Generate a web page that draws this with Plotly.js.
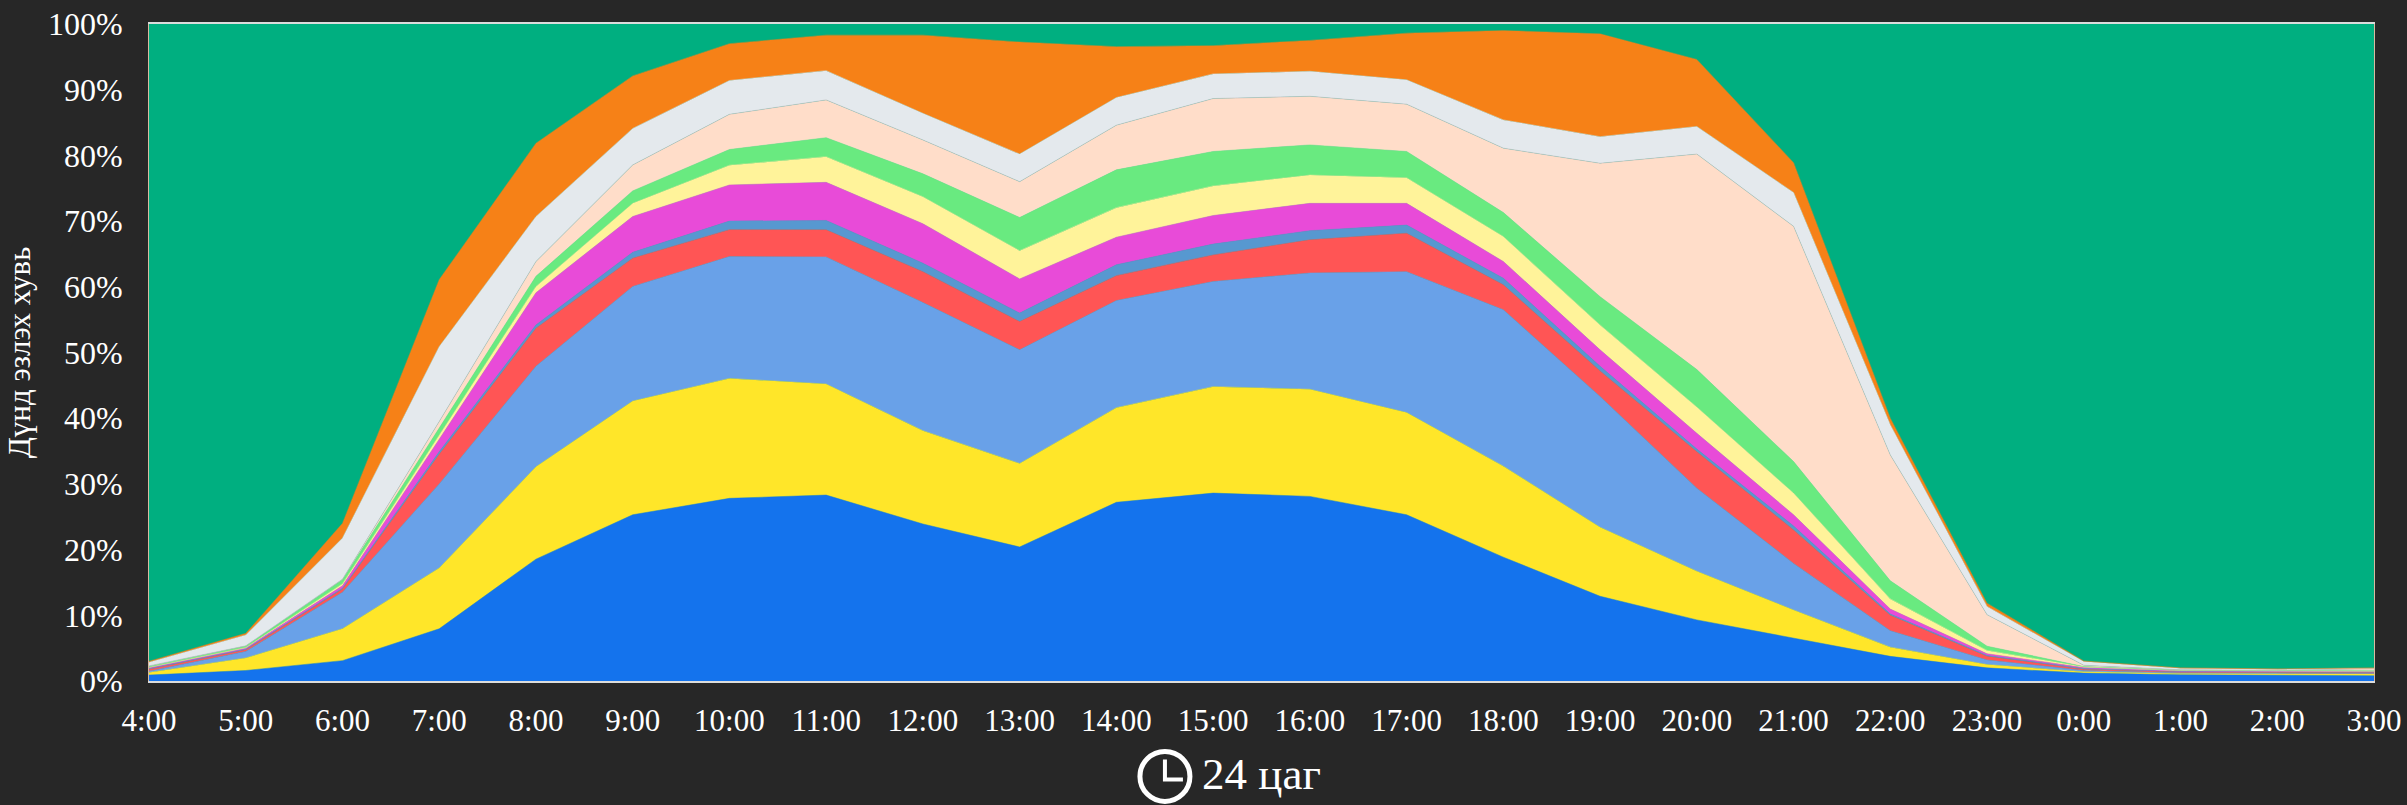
<!DOCTYPE html>
<html><head><meta charset="utf-8">
<script src="https://cdn.plot.ly/plotly-3.0.1.min.js"></script>
<style>html,body{margin:0;padding:0;background:#272727;overflow:hidden}</style>
</head><body><div id="chart" style="width:2407px;height:805px"></div>
<script>
const hours = ["4:00","5:00","6:00","7:00","8:00","9:00","10:00","11:00","12:00","13:00","14:00","15:00","16:00","17:00","18:00","19:00","20:00","21:00","22:00","23:00","0:00","1:00","2:00","3:00"];
const percentTicks = [0,10,20,30,40,50,60,70,80,90,100];
const percentLabels = ["0%","10%","20%","30%","40%","50%","60%","70%","80%","90%","100%"];
// Cumulative share (%) at the top of each band
const blueTop      = [0.9,1.6,3.1,7.95,18.55,25.3,27.8,28.3,23.9,20.4,27.2,28.6,28.1,25.3,18.85,12.9,9.3,6.5,3.75,2.0,1.2,0.95,0.9,0.8];
const yellowTop    = [1.3,3.5,7.95,17.2,32.6,42.6,46.05,45.2,38.1,33.1,41.6,44.8,44.4,40.85,32.7,23.4,16.7,10.8,5.15,2.5,1.4,1.15,1.1,1.05];
const skyTop       = [1.5,4.5,13.5,30,47.9,60.05,64.6,64.55,57.6,50.4,57.9,60.8,62.1,62.3,56.5,43.3,29.35,17.9,7.65,3.2,1.6,1.25,1.2,1.15];
const redTop       = [1.8,4.75,14.0,34.5,53.7,64.35,68.7,68.67,62.3,54.7,61.7,64.85,67.15,68.15,60.3,47.2,34.9,23.0,10.0,3.75,1.8,1.4,1.35,1.3];
const steelTop     = [1.9,4.85,14.1,34.9,54.2,65.25,70.0,70.1,63.6,56.0,63.35,66.5,68.55,69.4,61.3,47.9,35.3,23.6,10.2,3.9,1.9,1.45,1.4,1.35];
const magentaTop   = [2.0,5.0,14.5,36.9,59.1,70.7,75.5,75.9,69.6,61.2,67.55,70.85,72.7,72.7,63.85,50.4,37.7,25.3,10.95,4.15,2.05,1.55,1.45,1.45];
const paleYellowTop= [2.1,5.1,14.8,37.5,60.05,72.7,78.5,79.8,73.7,65.5,72.05,75.35,77.0,76.6,67.65,54.2,41.7,28.6,12.5,4.65,2.15,1.6,1.55,1.5];
const greenTop     = [2.2,5.3,15.4,38.5,61.6,74.6,80.9,82.7,77.2,70.55,77.8,80.6,81.6,80.6,71.3,58.5,47.4,33.4,15.25,5.3,2.2,1.65,1.6,1.55];
const peachTop     = [2.3,5.35,15.5,39.5,63.85,78.55,86.25,88.45,82.35,76.0,84.6,88.65,89.0,87.8,81.1,78.8,80.2,69.2,34.4,10.1,2.4,1.7,1.65,1.85];
const greyTop      = [2.85,7.0,21.75,50.9,70.7,84.1,91.4,92.9,86.4,80.2,88.8,92.4,92.8,91.5,85.4,82.85,84.4,74.35,39.0,11.35,2.95,1.95,1.8,1.95];
const orangeTop    = [3.0,7.25,24.0,61.1,81.85,92.1,97.0,98.3,98.3,97.25,96.55,96.7,97.5,98.6,99.0,98.5,94.6,78.9,40.0,11.85,3.05,2.0,1.85,2.0];
const tealTop      = [100,100,100,100,100,100,100,100,100,100,100,100,100,100,100,100,100,100,100,100,100,100,100,100];

const bands = [
  [blueTop,"#1473ED"],[yellowTop,"#FFE629"],[skyTop,"#69A1E8"],[redTop,"#FF5555"],
  [steelTop,"#5798D0"],[magentaTop,"#E84BD8"],[paleYellowTop,"#FFF39A"],[greenTop,"#69EA80"],
  [peachTop,"#FFDDC9"],[greyTop,"#E4E9ED"],[orangeTop,"#F68117"],[tealTop,"#00AF80"]
];
const serif = "'Liberation Serif', serif";
const traces = bands.map(([y,c],i)=>({
  x:hours, y:y, type:"scatter", mode:"lines",
  line:{width:0.5,color:(i===8)?"#b5b5b5":c}, fill:i===0?"tozeroy":"tonexty", fillcolor:c, hoverinfo:"skip"
}));
const layout = {
  width:2407,height:805,showlegend:false,
  paper_bgcolor:"#272727",plot_bgcolor:"#00AF80",
  margin:{l:148.5,r:32.5,t:23.5,b:123.5,pad:0},
  font:{family:serif,color:"#ffffff"},
  xaxis:{type:"category",categoryorder:"array",categoryarray:hours,range:[0,23],
    showgrid:false,zeroline:false,showline:true,linecolor:"#dcdcdc",linewidth:2,mirror:true,
    ticks:"",tickfont:{family:serif,size:31,color:"#ffffff"},ticklabelstandoff:11,tickangle:0,
    title:{text:"24 цаг",font:{family:serif,size:45,color:"#ffffff"},standoff:20}},
  yaxis:{range:[0,100],tickmode:"array",tickvals:percentTicks,ticktext:percentLabels,
    showgrid:false,zeroline:false,showline:true,linecolor:"#d9b9a0",linewidth:1,mirror:true,ticks:"",
    tickfont:{family:serif,size:32,color:"#ffffff"},ticklabelstandoff:19,
    title:{text:"Дүнд эзлэх хувь",font:{family:serif,size:31,color:"#ffffff"},standoff:8}},
  shapes:[
    {type:"circle",xref:"paper",yref:"paper",xsizemode:"pixel",ysizemode:"pixel",xanchor:0.4566,yanchor:-0.1452,
     x0:-25,x1:25,y0:-25,y1:25,line:{color:"#ffffff",width:5},fillcolor:"rgba(0,0,0,0)"},
    {type:"path",xref:"paper",yref:"paper",xsizemode:"pixel",ysizemode:"pixel",xanchor:0.4566,yanchor:-0.1452,
     path:"M 0 17 L 0 -3 L 18 -3",line:{color:"#ffffff",width:4}}
  ]
};
Plotly.newPlot("chart",traces,layout,{displayModeBar:false,staticPlot:true});
</script></body></html>
